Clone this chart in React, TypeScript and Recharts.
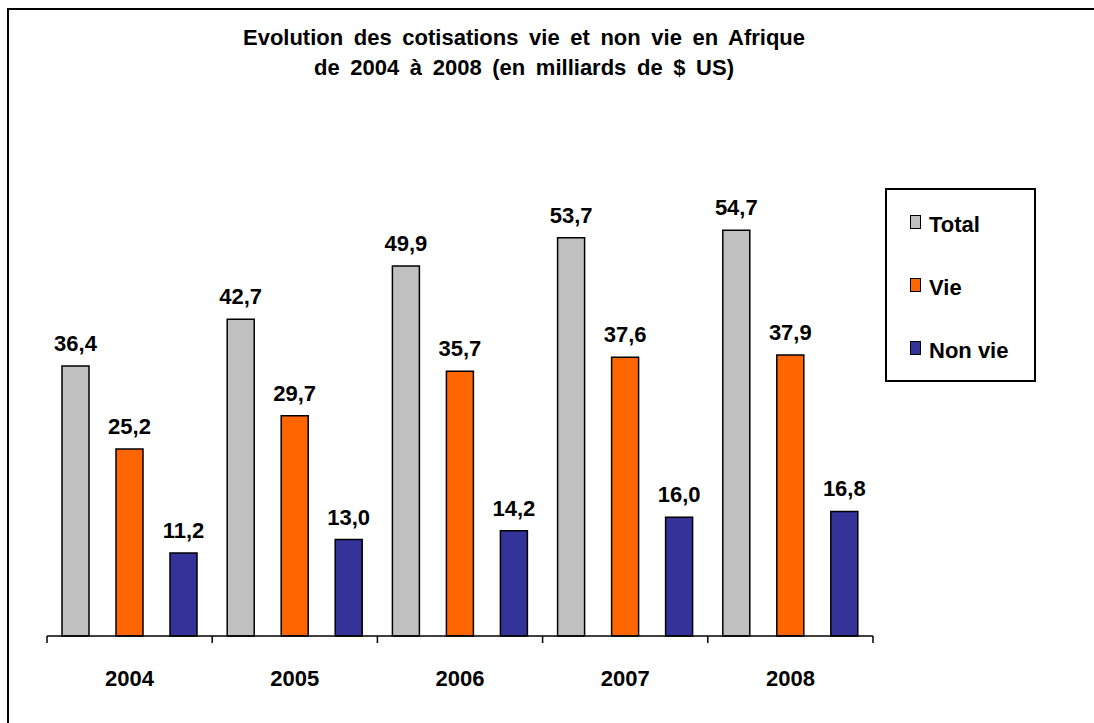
import React from 'react';
import { BarChart, Bar, XAxis, YAxis, Legend, LabelList } from 'recharts';

const categories = ['2004', '2005', '2006', '2007', '2008'];
const totalValues = [36.4, 42.7, 49.9, 53.7, 54.7];
const vieValues = [25.2, 29.7, 35.7, 37.6, 37.9];
const nonVieValues = [11.2, 13.0, 14.2, 16.0, 16.8];
const seriesOrder = ['Total', 'Vie', 'Non vie'];

const data = categories.map((year, i) => ({
  year,
  total: totalValues[i],
  vie: vieValues[i],
  nonVie: nonVieValues[i],
}));

const FONT = '"Liberation Sans", Arial, sans-serif';
const fmt = (v: any) => Number(v).toFixed(1).replace('.', ',');

const LegendBox = (props: any) => {
  const items = [...(props.payload || [])].sort(
    (a: any, b: any) => seriesOrder.indexOf(a.value) - seriesOrder.indexOf(b.value)
  );
  return (
    <div
      style={{
        boxSizing: 'border-box',
        width: 151,
        height: 194,
        border: '2px solid #000',
        background: '#fff',
        paddingTop: 3,
        fontFamily: FONT,
        fontWeight: 'bold',
        fontSize: 22,
        color: '#000',
      }}
    >
      {items.map((it: any) => (
        <div
          key={it.value}
          style={{ height: 63, display: 'flex', alignItems: 'center', paddingLeft: 23 }}
        >
          <span
            style={{
              display: 'inline-block',
              boxSizing: 'border-box',
              width: 11,
              height: 14,
              background: it.color,
              border: '1.5px solid #000',
              marginRight: 8,
              marginTop: -6,
            }}
          />
          <span>{it.value}</span>
        </div>
      ))}
    </div>
  );
};

const CategoryTick = (props: any) => {
  const { x, y, payload, index, visibleTicksCount, width } = props;
  const half =
    payload && typeof payload.offset === 'number' && payload.offset > 0
      ? payload.offset
      : width / visibleTicksCount / 2;
  const left = x - half;
  const right = x + half;
  const isLast = index === visibleTicksCount - 1;
  return (
    <g>
      <line x1={left} y1={y} x2={left} y2={y + 7} stroke="#000" strokeWidth={1.5} />
      {isLast && <line x1={right} y1={y} x2={right} y2={y + 7} stroke="#000" strokeWidth={1.5} />}
      <text
        x={x}
        y={y + 50}
        textAnchor="middle"
        fill="#000"
        fontSize={22}
        fontWeight="bold"
        fontFamily={FONT}
      >
        {payload.value}
      </text>
    </g>
  );
};

export default function App() {
  return (
    <div style={{ position: 'fixed', left: 0, top: 0, width: 1094, height: 723, overflow: 'hidden', background: '#fff' }}>
      <div
        style={{
          position: 'absolute',
          left: 7,
          top: 8,
          width: 1200,
          height: 800,
          border: '2px solid #000',
        }}
      />
      <div
        style={{
          position: 'absolute',
          left: 0,
          top: 23,
          width: 1048,
          textAlign: 'center',
          fontFamily: FONT,
          fontWeight: 'bold',
          fontSize: 22,
          lineHeight: '30px',
          wordSpacing: 4.5,
          color: '#000',
        }}
      >
        <div>Evolution des cotisations vie et non vie en Afrique</div>
        <div>de 2004 à 2008 (en milliards de $ US)</div>
      </div>
      <div style={{ position: 'absolute', left: 0, top: 0 }}>
        <BarChart
          width={1094}
          height={723}
          data={data}
          margin={{ top: 191, right: 221, bottom: 57, left: 47 }}
          barCategoryGap={15}
          barGap={27}
        >
          <XAxis
            dataKey="year"
            height={30}
            axisLine={{ stroke: '#000', strokeWidth: 1.5 }}
            tickLine={false}
            tickSize={0}
            tickMargin={0}
            interval={0}
            tick={<CategoryTick />}
          />
          <YAxis hide domain={[0, 60]} />
          <Legend
            layout="vertical"
            align="center"
            verticalAlign="middle"
            content={<LegendBox />}
            wrapperStyle={{ position: 'absolute', left: 885, top: 188, width: 151, height: 194 }}
          />
          <Bar dataKey="total" name="Total" fill="#C0C0C0" stroke="#000" strokeWidth={1.5} isAnimationActive={false}>
            <LabelList dataKey="total" position="top" offset={15} formatter={fmt} style={{ fill: '#000', fontSize: 22, fontWeight: 'bold', fontFamily: FONT }} />
          </Bar>
          <Bar dataKey="vie" name="Vie" fill="#FF6600" stroke="#000" strokeWidth={1.5} isAnimationActive={false}>
            <LabelList dataKey="vie" position="top" offset={15} formatter={fmt} style={{ fill: '#000', fontSize: 22, fontWeight: 'bold', fontFamily: FONT }} />
          </Bar>
          <Bar dataKey="nonVie" name="Non vie" fill="#333399" stroke="#000" strokeWidth={1.5} isAnimationActive={false}>
            <LabelList dataKey="nonVie" position="top" offset={15} formatter={fmt} style={{ fill: '#000', fontSize: 22, fontWeight: 'bold', fontFamily: FONT }} />
          </Bar>
        </BarChart>
      </div>
    </div>
  );
}
